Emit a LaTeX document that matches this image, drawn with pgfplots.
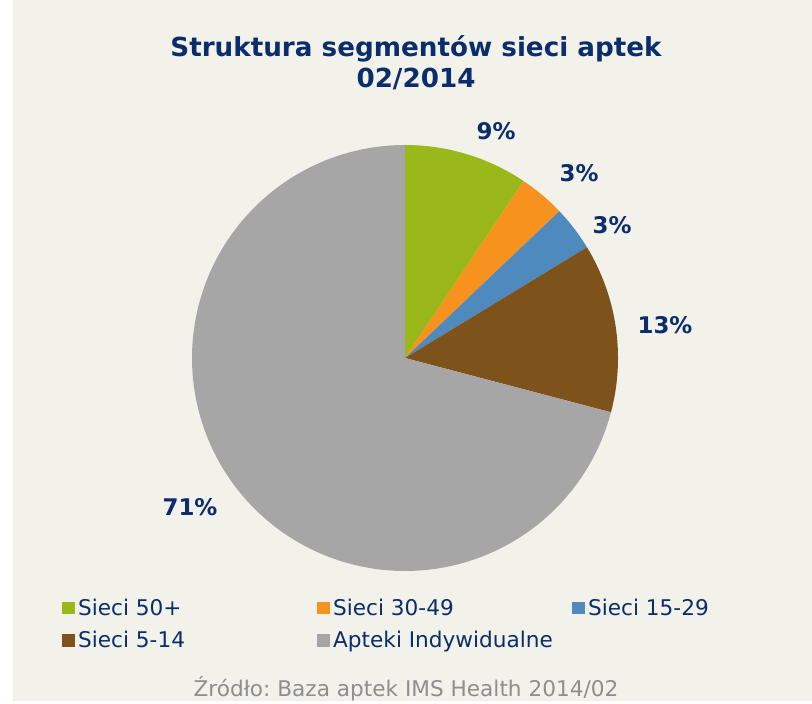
\documentclass[border=0pt]{standalone}
\usepackage{pgfplots}
\pgfplotsset{compat=1.18}
\usepackage{fontspec}
\setmainfont{DejaVu Sans}
\frenchspacing
\definecolor{bgc}{HTML}{F2F1EA}
\definecolor{navy}{HTML}{0A2D6B}
\definecolor{cgreen}{HTML}{9BB81B}
\definecolor{corange}{HTML}{F7921F}
\definecolor{cblue}{HTML}{4F8ABE}
\definecolor{cbrown}{HTML}{7D531B}
\definecolor{cgray}{HTML}{A6A6A6}
\definecolor{srcgray}{HTML}{8E8E8E}
% shares (percent), clockwise from 12 o'clock
\def\vA{9.4}\def\vB{3.5}\def\vC{3.4}\def\vD{12.8}\def\vE{70.9}
\begin{document}
\begin{tikzpicture}[x=1bp,y=1bp]
\fill[white] (0,0) rectangle (812,701);
\fill[bgc] (13,0) rectangle (812,701);
\pgfmathsetmacro{\aA}{90}
\pgfmathsetmacro{\aB}{90-3.6*\vA}
\pgfmathsetmacro{\aC}{\aB-3.6*\vB}
\pgfmathsetmacro{\aD}{\aC-3.6*\vC}
\pgfmathsetmacro{\aE}{\aD-3.6*\vD}
\pgfmathsetmacro{\aF}{\aE-3.6*\vE}
\begin{axis}[
  at={(405bp,343bp)}, anchor=center,
  width=426bp, height=426bp, scale only axis,
  xmin=-1, xmax=1, ymin=-1, ymax=1,
  hide axis, clip=false,
]
\addplot[draw=none, fill=cgreen, domain=\aB:\aA, samples=60] ({cos(x)},{sin(x)}) -- (0,0) -- cycle;
\addplot[draw=none, fill=corange, domain=\aC:\aB, samples=20] ({cos(x)},{sin(x)}) -- (0,0) -- cycle;
\addplot[draw=none, fill=cblue, domain=\aD:\aC, samples=20] ({cos(x)},{sin(x)}) -- (0,0) -- cycle;
\addplot[draw=none, fill=cbrown, domain=\aE:\aD, samples=60] ({cos(x)},{sin(x)}) -- (0,0) -- cycle;
\addplot[draw=none, fill=cgray, domain=\aF:\aE, samples=200] ({cos(x)},{sin(x)}) -- (0,0) -- cycle;
\end{axis}
% title
\node[navy, font=\fontsize{26.3}{31}\selectfont\bfseries, align=center] at (416,638) {Struktura segmentów sieci aptek\\02/2014};
% data labels
\begin{scope}[every node/.style={navy, font=\fontsize{23}{27}\selectfont\bfseries}]
\node at (496,570) {9\%};
\node at (579,528) {3\%};
\node at (612,476) {3\%};
\node at (665,376) {13\%};
\node at (190,194) {71\%};
\end{scope}
% legend
\begin{scope}[every node/.style={navy, font=\fontsize{21.7}{26}\selectfont, anchor=base west, inner sep=0pt}]
\fill[cgreen] (62,86.7) rectangle (75,99); \node at (78,86) {Sieci 50+};
\fill[corange] (317,86.7) rectangle (330,99); \node at (333,86) {Sieci 30-49};
\fill[cblue] (572,86.7) rectangle (585,99); \node at (588,86) {Sieci 15-29};
\fill[cbrown] (62,54.3) rectangle (75,67); \node at (78,54) {Sieci 5-14};
\fill[cgray] (317,54.3) rectangle (330,67); \node at (333,54) {Apteki Indywidualne};
\end{scope}
\node[srcgray, font=\fontsize{21.7}{26}\selectfont, anchor=base] at (406,5) {Źródło: Baza aptek IMS Health 2014/02};
\end{tikzpicture}
\end{document}
